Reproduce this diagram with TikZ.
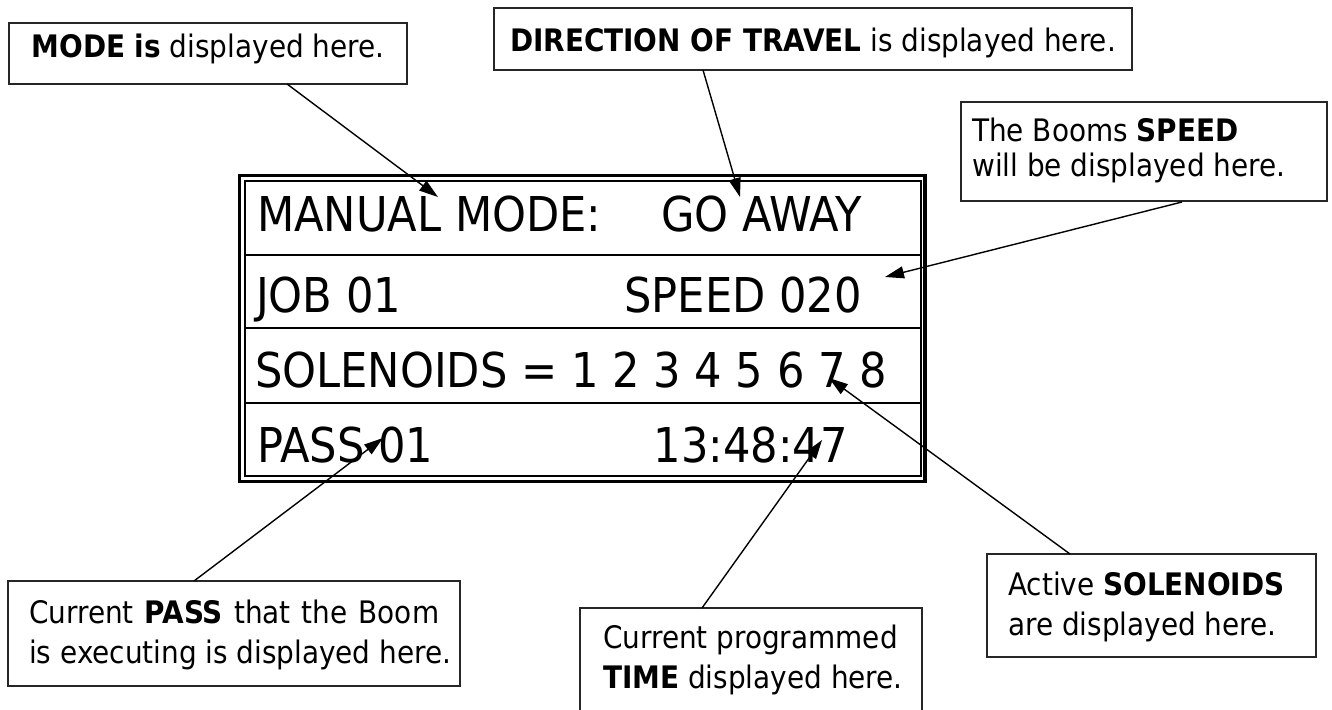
\documentclass[tikz,border=0pt]{standalone}
\usepackage{fontspec}
\setmainfont{DejaVu Sans Condensed}
\usetikzlibrary{arrows.meta}
\begin{document}
\begin{tikzpicture}[x=1pt,y=-1pt,
  callout/.style={draw=black!85, line width=1.6pt, rectangle, inner sep=0pt},
  small/.style={font=\fontsize{31}{40}\selectfont, inner sep=0pt},
  big/.style={font=\fontsize{48}{58}\selectfont, inner sep=0pt},
  conn/.style={line width=1.4pt, -{Triangle[length=19pt,width=12pt]}},
  sep/.style={line width=2pt}]
\useasboundingbox (0,0) rectangle (1332,709);
% display panel
\draw[line width=3.5pt] (239.5,175.5) rectangle (925,481.5);
\draw[line width=2pt] (245,181) rectangle (920.5,476);
\coordinate (r1l) at (245,255); \coordinate (r1r) at (920.5,255);
\coordinate (r2l) at (245,328); \coordinate (r2r) at (920.5,328);
\coordinate (r3l) at (245,403); \coordinate (r3r) at (920.5,403);
\draw[sep] (r1l) -- (r1r);
\draw[sep] (r2l) -- (r2r);
\draw[sep] (r3l) -- (r3r);
\node[big, anchor=base west] (t1a) at (257,231) {MANUAL MODE:};
\node[big, anchor=base east] (t1b) at (862,231) {GO AWAY};
\node[big, anchor=base west] (t2a) at (256,312) {JOB 01};
\node[big, anchor=base east] (t2b) at (862,312) {SPEED 020};
\node[big, anchor=base west] (t3a) at (255,387) {SOLENOIDS = 1 2 3 4 5 6 7 8};
\node[big, anchor=base west] (t4a) at (257,462) {PASS 01};
\node[big, anchor=base east] (t4b) at (848,462) {13:48:47};
% callout boxes
\node[callout, minimum width=398pt, minimum height=61pt] (modebox) at (208,53.5) {};
\node[small, anchor=base] (modetxt) at (208,57) {\textbf{MODE is} displayed here.};
\node[callout, minimum width=638pt, minimum height=62pt] (dirbox) at (813,39) {};
\node[small, anchor=base] (dirtxt) at (813,52) {\textbf{DIRECTION OF TRAVEL} is displayed here.};
\node[callout, minimum width=366pt, minimum height=99pt] (speedbox) at (1144,151.5) {};
\node[small, anchor=base west] (speedtxt1) at (972,141) {The Booms \textbf{SPEED}};
\node[small, anchor=base west] (speedtxt2) at (972,176) {will be displayed here.};
\node[callout, minimum width=329pt, minimum height=103pt] (solbox) at (1151.5,605.5) {};
\node[small, anchor=base west] (soltxt1) at (1008,595) {Active \textbf{SOLENOIDS}};
\node[small, anchor=base west] (soltxt2) at (1008,635) {are displayed here.};
\node[callout, minimum width=452pt, minimum height=105pt] (passbox) at (234,633.5) {};
\node[small, anchor=base west] (passtxt1) at (29,623) {\hbox to 410pt{Current\hfill\textbf{PASS}\hfill that\hfill the\hfill Boom}};
\node[small, anchor=base west] (passtxt2) at (29,663) {is executing is displayed here.};
\node[callout, minimum width=342pt, minimum height=130pt] (timebox) at (751,673) {};
\node[small, anchor=base west] (timetxt1) at (603,648) {Current programmed};
\node[small, anchor=base west] (timetxt2) at (603,688) {\textbf{TIME} displayed here.};
% connector ends
\coordinate (modeA) at (287,84);   \coordinate (modeT) at (438,197);
\coordinate (dirA) at (703,70);    \coordinate (dirT) at (740,197);
\coordinate (speedA) at (1182,202);\coordinate (speedT) at (885,277);
\coordinate (solA) at (1070,554);  \coordinate (solT) at (829,378);
\coordinate (timeA) at (702,608);  \coordinate (timeT) at (822,440);
\coordinate (passA) at (194,581);  \coordinate (passT) at (383,438);
\draw[conn] (modeA) -- (modeT);
\draw[conn] (dirA) -- (dirT);
\draw[conn] (speedA) -- (speedT);
\draw[conn] (solA) -- (solT);
\draw[conn] (timeA) -- (timeT);
\draw[conn] (passA) -- (passT);
\end{tikzpicture}
\end{document}
